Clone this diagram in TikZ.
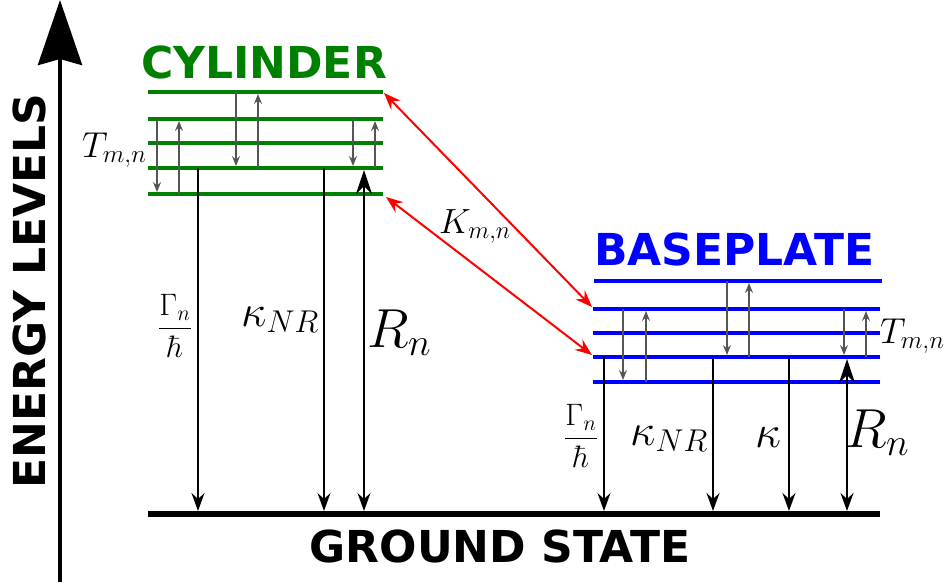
\RequirePackage{fix-cm}
\documentclass[tikz,border=0pt]{standalone}
\usepackage{fontspec}
\newfontfamily\titlefont{DejaVu Sans}
\usetikzlibrary{arrows.meta}
\definecolor{cylgreen}{RGB}{0,128,0}
\definecolor{baseblue}{RGB}{0,0,255}
\definecolor{trgray}{RGB}{85,85,85}
\begin{document}
\begin{tikzpicture}[x=1pt,y=-1pt,
  title/.style={font=\titlefont\bfseries\fontsize{44}{50}\selectfont, inner sep=0pt, anchor=base},
  mlab/.style={inner sep=0pt, anchor=base west},
  lvgreen/.style={draw=cylgreen, line width=4.5pt},
  lvblue/.style={draw=baseblue, line width=4.5pt},
  trans/.style={draw=trgray, line width=1.3pt, -{Stealth[length=10pt,width=8pt,inset=3.5pt]}},
  decay/.style={draw=black, line width=1.6pt, -{Stealth[length=18pt,width=13pt,inset=6pt]}},
  pump/.style={draw=black, line width=1.6pt, {Stealth[length=18pt,width=13pt,inset=6pt]}-{Stealth[length=24pt,width=16pt,inset=8pt]}},
  couple/.style={draw=red, line width=2pt, {Stealth[length=17pt,width=13pt,inset=6pt]}-{Stealth[length=17pt,width=13pt,inset=6pt]}}
]
\useasboundingbox (0,0) rectangle (944,586);

% energy axis
\coordinate (ebot) at (60,582);
\coordinate (etop) at (60,0);
\draw[line width=4pt, -{Stealth[length=65pt,width=44pt,inset=6pt]}] (ebot) -- (etop);
\node[title, rotate=90] (elab) at (45,291) {ENERGY LEVELS};

% titles
\node[title, text=cylgreen] (cyl) at (264,78) {CYLINDER};
\node[title, text=baseblue] (base) at (734.5,265) {BASEPLATE};
\node[title] (gs) at (500,562) {GROUND STATE};

% ground line
\coordinate (gL) at (148,514);
\coordinate (gR) at (880,514);
\draw[line width=6pt] (gL) -- (gR);

% cylinder levels
\foreach \n/\y in {1/92,2/119,3/143,4/168,5/194} {
  \coordinate (cL\n) at (148,\y);
  \coordinate (cR\n) at (383,\y);
  \draw[lvgreen] (cL\n) -- (cR\n);
}
% baseplate levels
\coordinate (bL1) at (594,281);
\coordinate (bR1) at (882,281);
\draw[lvblue] (bL1) -- (bR1);
\foreach \n/\y in {2/309,3/333,4/357,5/382} {
  \coordinate (bL\n) at (593,\y);
  \coordinate (bR\n) at (880,\y);
  \draw[lvblue] (bL\n) -- (bR\n);
}

% cylinder internal transitions
\coordinate (ct1a) at (157,119); \coordinate (ct1b) at (157,192);
\coordinate (ct2a) at (179,194); \coordinate (ct2b) at (179,121);
\coordinate (ct3a) at (236,92);  \coordinate (ct3b) at (236,166);
\coordinate (ct4a) at (258,168); \coordinate (ct4b) at (258,94);
\coordinate (ct5a) at (353,119); \coordinate (ct5b) at (353,166);
\coordinate (ct6a) at (375,168); \coordinate (ct6b) at (375,121);
\foreach \k in {1,...,6} { \draw[trans] (ct\k a) -- (ct\k b); }

% baseplate internal transitions
\coordinate (bt1a) at (623,309); \coordinate (bt1b) at (623,380);
\coordinate (bt2a) at (646,382); \coordinate (bt2b) at (646,311);
\coordinate (bt3a) at (727,281); \coordinate (bt3b) at (727,355);
\coordinate (bt4a) at (749,357); \coordinate (bt4b) at (749,283);
\coordinate (bt5a) at (844,309); \coordinate (bt5b) at (844,355);
\coordinate (bt6a) at (866,357); \coordinate (bt6b) at (866,311);
\foreach \k in {1,...,6} { \draw[trans] (bt\k a) -- (bt\k b); }

% cylinder decays and pump
\coordinate (cd1a) at (198,168); \coordinate (cd1b) at (198,511);
\coordinate (cd2a) at (324,168); \coordinate (cd2b) at (324,511);
\coordinate (cpa) at (364,511);  \coordinate (cpb) at (364,170);
\draw[decay] (cd1a) -- (cd1b);
\draw[decay] (cd2a) -- (cd2b);
\draw[pump] (cpa) -- (cpb);

% baseplate decays and pump
\coordinate (bd1a) at (604,357); \coordinate (bd1b) at (604,511);
\coordinate (bd2a) at (713,357); \coordinate (bd2b) at (713,511);
\coordinate (bd3a) at (789,357); \coordinate (bd3b) at (789,511);
\coordinate (bpa) at (847,511);  \coordinate (bpb) at (847,359);
\draw[decay] (bd1a) -- (bd1b);
\draw[decay] (bd2a) -- (bd2b);
\draw[decay] (bd3a) -- (bd3b);
\draw[pump] (bpa) -- (bpb);

% coupling arrows
\coordinate (k1a) at (384,93);  \coordinate (k1b) at (592,307);
\coordinate (k2a) at (386,197); \coordinate (k2b) at (592,355);
\draw[couple] (k1a) -- (k1b);
\draw[couple] (k2a) -- (k2b);

% labels
\node[mlab, font=\fontsize{36}{40}\selectfont] (tl) at (82,157) {$T_{m,n}$};
\node[mlab, font=\fontsize{36}{40}\selectfont] (tr) at (880,343) {$T_{m,n}$};
\node[mlab, font=\fontsize{35}{40}\selectfont] (kl) at (439,233) {$K_{m,n}$};
\node[inner sep=0pt, font=\fontsize{31}{34}\selectfont] (gl) at (175,326) {$\displaystyle\frac{\Gamma_n}{\hbar}$};
\node[inner sep=0pt, font=\fontsize{31}{34}\selectfont] (gr) at (581,436) {$\displaystyle\frac{\Gamma_n}{\hbar}$};
\node[mlab, font=\fontsize{45}{50}\selectfont] (knrl) at (241,326) {$\kappa_{NR}$};
\node[mlab, font=\fontsize{45}{50}\selectfont] (knrr) at (630,445) {$\kappa_{NR}$};
\node[mlab, font=\fontsize{46}{50}\selectfont] (kap) at (755,447) {$\kappa$};
\node[mlab, font=\fontsize{55}{60}\selectfont] (rl) at (367,347) {$R_n$};
\node[mlab, font=\fontsize{55}{60}\selectfont] (rr) at (845,447) {$R_n$};
\end{tikzpicture}
\end{document}
